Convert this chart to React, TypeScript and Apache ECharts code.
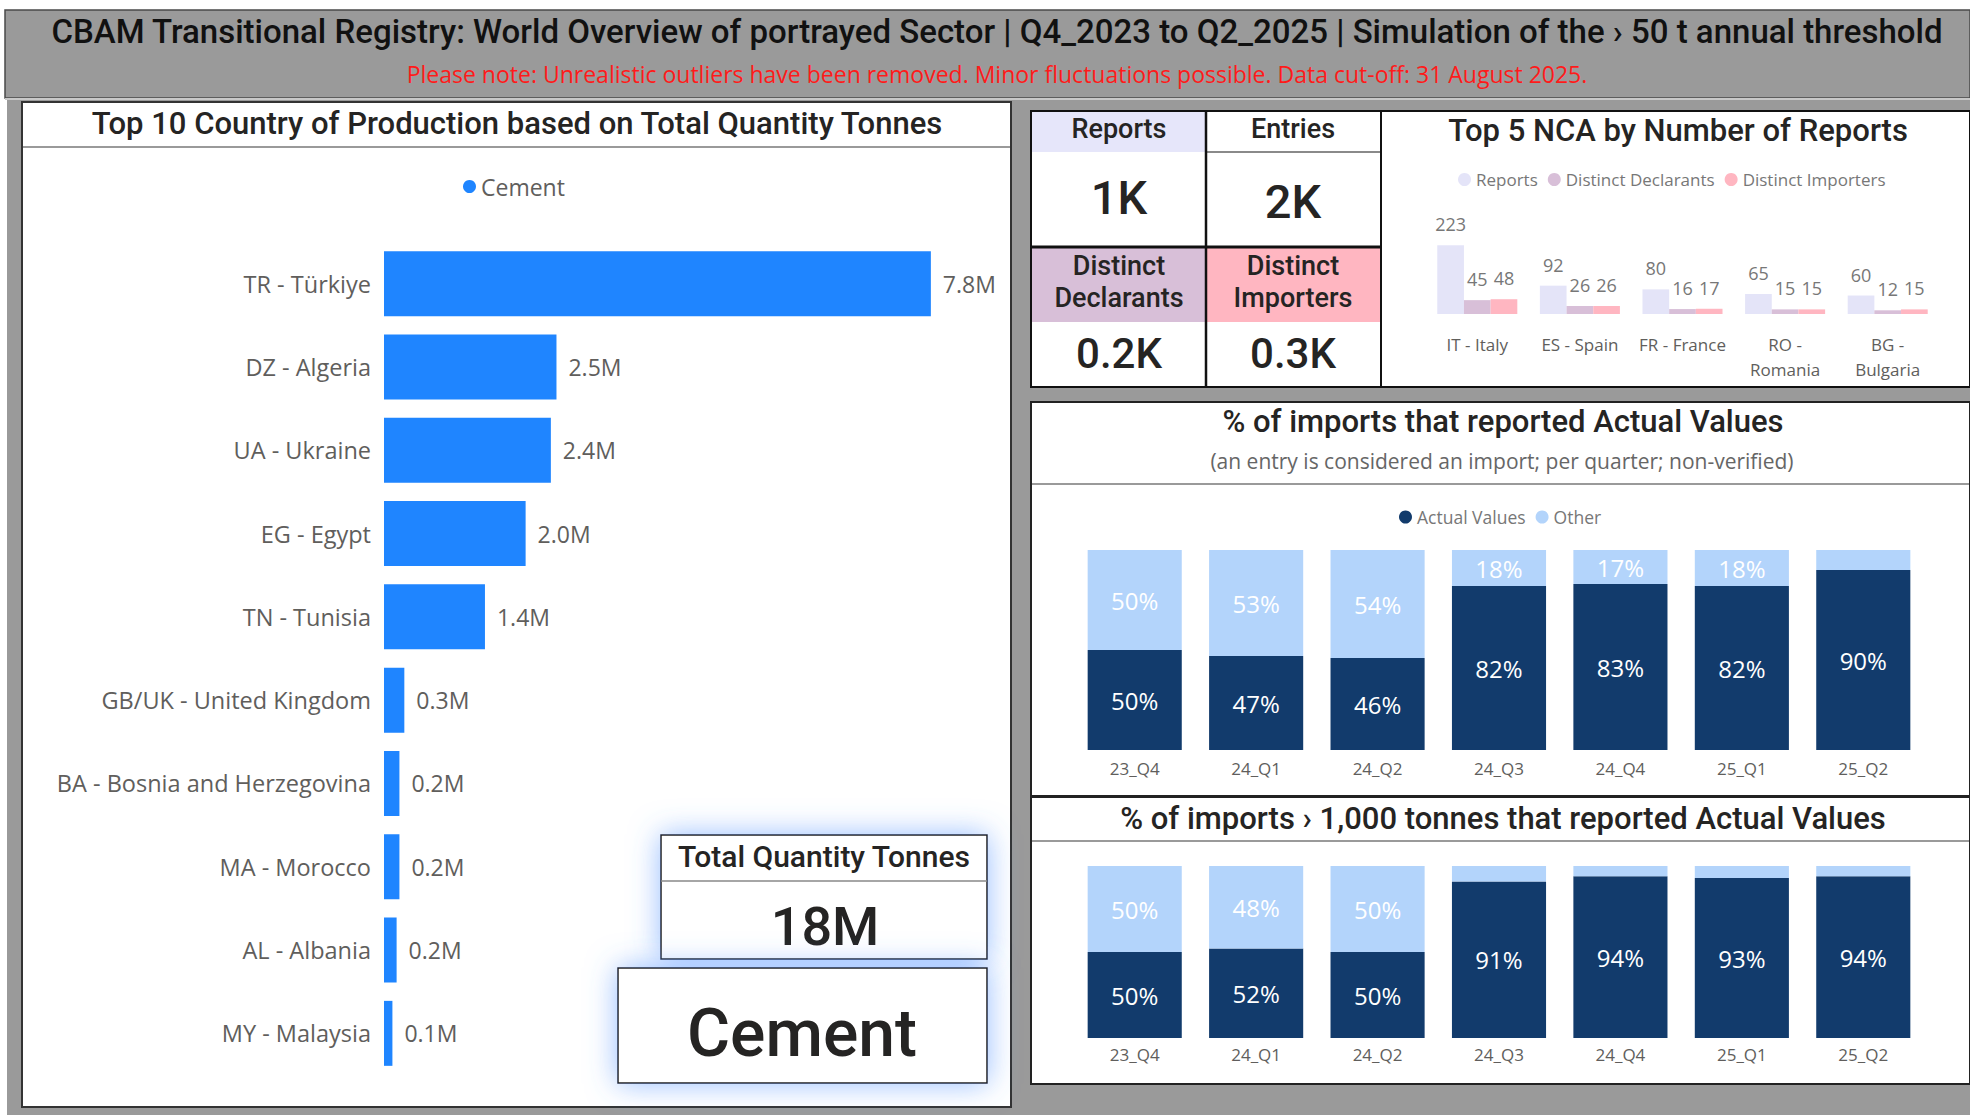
import React, { useEffect, useRef } from 'react';
import * as echarts from 'echarts';

// ---------- data ----------
const countries = [
  'TR - Türkiye', 'DZ - Algeria', 'UA - Ukraine', 'EG - Egypt', 'TN - Tunisia',
  'GB/UK - United Kingdom', 'BA - Bosnia and Herzegovina', 'MA - Morocco', 'AL - Albania', 'MY - Malaysia',
];
const cementTonnes = [7.8e6, 2.46e6, 2.38e6, 2.02e6, 1.44e6, 0.29e6, 0.22e6, 0.22e6, 0.18e6, 0.12e6];

const ncaNames = ['IT - Italy', 'ES - Spain', 'FR - France', 'RO - Romania', 'BG - Bulgaria'];
const ncaReports = [223, 92, 80, 65, 60];
const ncaDeclarants = [45, 26, 16, 15, 12];
const ncaImporters = [48, 26, 17, 15, 15];

const quarters = ['23_Q4', '24_Q1', '24_Q2', '24_Q3', '24_Q4', '25_Q1', '25_Q2'];
const actualAll = [50, 47, 46, 82, 83, 82, 90];
const otherAll = [50, 53, 54, 18, 17, 18, 10];
const actualBig = [50, 52, 50, 91, 94, 93, 94];
const otherBig = [50, 48, 50, 9, 6, 7, 6];

const kpiLabels = ['Reports', 'Entries', 'Distinct\nDeclarants', 'Distinct\nImporters'];
const kpiValues = ['1K', '2K', '0.2K', '0.3K'];
const totalQuantityLabel = '18M';
const sectorName = 'Cement';

const mainTitle = 'CBAM Transitional Registry: World Overview of portrayed Sector | Q4_2023 to Q2_2025 | Simulation of the › 50 t annual threshold';
const noteText = 'Please note: Unrealistic outliers have been removed. Minor fluctuations possible. Data cut-off: 31 August 2025.';

// ---------- style ----------
const TITLE = 'Roboto, "DejaVu Sans", sans-serif';
const BODY = '"Open Sans", "Noto Sans", sans-serif';
const DARK = '#252423';
const GREY = '#605E5C';
const C_BAR = '#1F85FF';
const C_REP = '#E4E4F8';
const C_DEC = '#D8BFD8';
const C_IMP = '#FFB6C1';
const C_ACT = '#123B6C';
const C_OTH = '#B3D4FB';

const txt = (text: string, x: number, y: number, size: number, o: any = {}) => ({
  type: 'text',
  style: {
    text, x, y,
    fontSize: size,
    fontFamily: o.font || TITLE,
    fontWeight: o.weight || 'normal',
    fill: o.color || DARK,
    align: o.align || 'center',
    verticalAlign: 'middle',
    textAlign: o.align || 'center',
    textVerticalAlign: 'middle',
    lineHeight: o.lineHeight,
  },
});
const rect = (x: number, y: number, w: number, h: number, fill: string, stroke?: string, lw = 0, extra: any = {}) => ({
  type: 'rect',
  shape: { x, y, width: w, height: h },
  style: { fill, stroke: stroke || 'none', lineWidth: lw, ...extra },
});
const line = (x1: number, y1: number, x2: number, y2: number, stroke: string, lw = 1) => ({
  type: 'line',
  shape: { x1, y1, x2, y2 },
  style: { stroke, lineWidth: lw },
});

const pctSeries = (name: string, data: number[], color: string, xi: number) => ({
  type: 'bar',
  name,
  stack: 's' + xi,
  xAxisIndex: xi,
  yAxisIndex: xi,
  barCategoryGap: '22.5%',
  itemStyle: { color },
  data: data.map((v) => ({ value: v, label: { show: v >= 12 } })),
  label: {
    show: true,
    position: 'inside',
    color: '#FFFFFF',
    fontSize: 24,
    fontFamily: BODY,
    formatter: (p: any) => p.value + '%',
  },
});

export default function App() {
  const ref = useRef<HTMLDivElement>(null);
  useEffect(() => {
    if (!ref.current) return;
    const chart = echarts.init(ref.current, undefined, { renderer: 'svg' });
    const glow = { shadowBlur: 30, shadowColor: 'rgba(80,145,255,0.6)' };

    const graphics: any[] = [
      // page background
      rect(0, 0, 1970, 1115, '#FFFFFF'),
      rect(7, 10, 1963, 1105, '#9A9A9A'),
      // header
      rect(5, 10, 1965, 88, '#9A9A9A', '#4A4A4A', 1.5),
      line(5, 99, 1970, 99, '#C8C8C8', 2),
      txt(mainTitle, 997, 31, 33, { weight: 500, color: '#111' }),
      txt(noteText, 997, 74, 23, { font: BODY, color: '#FF1A1A' }),
      // left panel
      rect(22, 102, 989, 1005, '#FFFFFF', '#333333', 2),
      line(23, 147, 1010, 147, '#9A9A9A', 2),
      txt('Top 10 Country of Production based on Total Quantity Tonnes', 517, 123, 31, { weight: 500 }),
      // cards
      rect(661, 835, 326, 124, '#FFFFFF', '#222', 1.5, glow),
      line(661, 881, 987, 881, '#888', 1.5),
      txt('Total Quantity Tonnes', 824, 856, 30, { weight: 500 }),
      txt(totalQuantityLabel, 825, 926, 54, { weight: 500 }),
      rect(618, 968, 369, 115, '#FFFFFF', '#222', 1.5, glow),
      txt(sectorName, 802, 1033, 66, { weight: 500 }),
      // KPI panel
      rect(1031, 111, 350, 276, '#FFFFFF', '#111', 2),
      rect(1032, 112, 174, 40, '#E6E6FA'),
      line(1207, 152, 1380, 152, '#8A8A8A', 2),
      rect(1032, 248, 174, 74, C_DEC),
      rect(1207, 248, 173, 74, C_IMP),
      line(1206, 111, 1206, 387, '#111', 2.5),
      line(1031, 247, 1381, 247, '#111', 3),
      txt(kpiLabels[0], 1119, 129, 27, { weight: 500 }),
      txt(kpiLabels[1], 1293, 129, 27, { weight: 500 }),
      txt(kpiValues[0], 1119, 197, 47, { weight: 500 }),
      txt(kpiValues[1], 1293, 201, 47, { weight: 500 }),
      txt(kpiLabels[2], 1119, 282, 27, { weight: 500, lineHeight: 32 }),
      txt(kpiLabels[3], 1293, 282, 27, { weight: 500, lineHeight: 32 }),
      txt(kpiValues[2], 1119, 353, 42, { weight: 500 }),
      txt(kpiValues[3], 1293, 353, 42, { weight: 500 }),
      // NCA panel
      rect(1381, 111, 589, 276, '#FFFFFF', '#111', 2),
      txt('Top 5 NCA by Number of Reports', 1678, 130, 31, { weight: 500 }),
      // middle panel
      rect(1031, 402, 939, 394, '#FFFFFF', '#222', 2),
      line(1032, 484, 1969, 484, '#9A9A9A', 2),
      txt('% of imports that reported Actual Values', 1503, 421, 31, { weight: 500 }),
      txt('(an entry is considered an import; per quarter; non-verified)', 1502, 461, 21, { font: BODY, color: '#666' }),
      // bottom panel
      rect(1031, 797, 939, 287, '#FFFFFF', '#222', 2),
      line(1032, 841, 1969, 841, '#9A9A9A', 2),
      txt('% of imports › 1,000 tonnes that reported Actual Values', 1503, 818, 31, { weight: 500 }),
    ];

    const catAxisLabel = (size: number, margin: number) => ({
      fontSize: size, color: GREY, fontFamily: BODY, margin, interval: 0,
    });

    const option: any = {
      animation: false,
      graphic: { elements: graphics },
      legend: [
        {
          data: ['Cement'], left: 458, top: 170, icon: 'circle', itemWidth: 13, itemHeight: 13,
          textStyle: { fontSize: 23, color: GREY, fontFamily: BODY }, itemGap: 4,
        },
        {
          data: ['Reports', 'Distinct Declarants', 'Distinct Importers'], left: 1453, top: 166,
          icon: 'circle', itemWidth: 13, itemHeight: 13, itemGap: 10,
          textStyle: { fontSize: 17, color: '#777', fontFamily: BODY },
        },
        {
          data: ['Actual Values', 'Other'], left: 1394, top: 503,
          icon: 'circle', itemWidth: 13, itemHeight: 13, itemGap: 10,
          textStyle: { fontSize: 17.5, color: '#777', fontFamily: BODY },
        },
      ],
      grid: [
        { left: 384, top: 242, width: 631, height: 833 },
        { left: 1426, top: 237, width: 513, height: 77 },
        { left: 1074, top: 550, width: 850, height: 200 },
        { left: 1074, top: 866, width: 850, height: 172 },
      ],
      xAxis: [
        { type: 'value', gridIndex: 0, min: 0, max: 9e6, show: false },
        {
          type: 'category', gridIndex: 1, data: ncaNames,
          axisLine: { show: false }, axisTick: { show: false },
          axisLabel: {
            ...catAxisLabel(17, 18), lineHeight: 25,
            formatter: (v: string) => (v.length > 11 ? v.replace(' - ', ' -\n') : v),
          },
        },
        {
          type: 'category', gridIndex: 2, data: quarters,
          axisLine: { show: false }, axisTick: { show: false }, axisLabel: catAxisLabel(17, 10),
        },
        {
          type: 'category', gridIndex: 3, data: quarters,
          axisLine: { show: false }, axisTick: { show: false }, axisLabel: catAxisLabel(17, 8),
        },
      ],
      yAxis: [
        {
          type: 'category', gridIndex: 0, data: countries, inverse: true,
          axisLine: { show: false }, axisTick: { show: false },
          axisLabel: { fontSize: 23.5, color: GREY, fontFamily: BODY, margin: 13 },
        },
        { type: 'value', gridIndex: 1, min: 0, max: 250, show: false },
        { type: 'value', gridIndex: 2, min: 0, max: 100, show: false },
        { type: 'value', gridIndex: 3, min: 0, max: 100, show: false },
      ],
      series: [
        {
          type: 'bar', name: 'Cement', xAxisIndex: 0, yAxisIndex: 0, data: cementTonnes,
          barCategoryGap: '22%', itemStyle: { color: C_BAR },
          label: {
            show: true, position: 'right', distance: 12, fontSize: 23, color: GREY, fontFamily: BODY,
            formatter: (p: any) => (p.value / 1e6).toFixed(1) + 'M',
          },
        },
        ...[
          ['Reports', ncaReports, C_REP],
          ['Distinct Declarants', ncaDeclarants, C_DEC],
          ['Distinct Importers', ncaImporters, C_IMP],
        ].map(([name, data, color]: any) => ({
          type: 'bar', name, data, xAxisIndex: 1, yAxisIndex: 1,
          barGap: '0%', barCategoryGap: '22%', itemStyle: { color },
          label: { show: true, position: 'top', distance: 12, fontSize: 18, color: '#777', fontFamily: BODY },
        })),
        pctSeries('Actual Values', actualAll, C_ACT, 2),
        pctSeries('Other', otherAll, C_OTH, 2),
        pctSeries('Actual Values', actualBig, C_ACT, 3),
        pctSeries('Other', otherBig, C_OTH, 3),
      ],
    };
    chart.setOption(option);
    return () => chart.dispose();
  }, []);
  return <div ref={ref} style={{ position: 'absolute', left: 0, top: 0, width: 1970, height: 1115 }} />;
}
